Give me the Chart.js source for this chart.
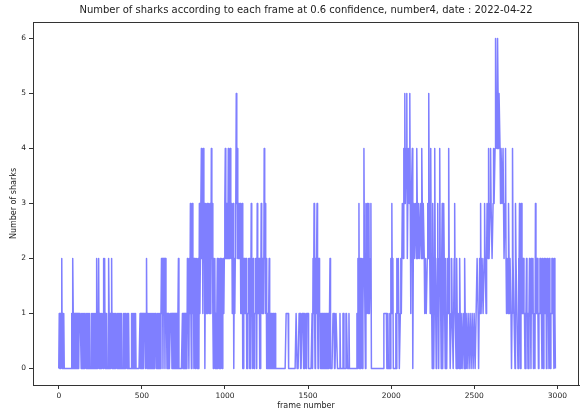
<!DOCTYPE html>
<html>
<head>
<meta charset="utf-8">
<script src="https://cdn.jsdelivr.net/npm/chart.js@4.4.1/dist/chart.umd.min.js"></script>
<style>
  html, body { margin: 0; padding: 0; background: #fff; overflow: hidden; }
  #wrap { width: 580px; height: 415px; }
</style>
</head>
<body>
<div id="wrap"><canvas id="c" width="580" height="415"></canvas></div>
<script>
// Frame sampling step (every 3rd frame)
const frameStep = 3;
const sharkCounts = [
  0,1,0,1,0,1,2,0,1,0,1,0,0,0,0,0,0,0,0,0,
  0,0,0,0,0,0,1,0,2,1,0,1,0,1,0,1,0,1,0,1,
  0,1,1,1,1,0,1,0,1,0,1,0,1,1,1,0,1,0,1,0,
  1,0,1,0,0,0,1,0,1,0,1,0,1,0,1,0,2,1,0,1,
  2,0,1,0,1,0,1,1,1,0,2,1,2,0,1,0,1,0,0,0,
  2,1,0,1,0,1,2,0,1,0,1,0,1,0,1,1,1,0,1,0,
  1,0,1,0,1,0,1,0,0,0,1,0,1,0,1,1,1,0,1,0,
  1,0,0,0,0,0,1,0,1,0,1,0,1,0,1,0,0,0,0,0,
  0,0,0,1,0,1,0,1,0,1,0,1,1,1,0,1,2,0,1,0,
  1,0,1,0,1,0,1,0,1,0,1,0,1,1,1,1,0,1,0,1,
  0,1,0,1,0,1,2,1,2,0,2,1,2,0,2,1,1,0,1,0,
  1,0,0,0,1,1,1,0,1,0,1,0,1,0,1,0,1,0,0,1,
  2,0,0,0,0,0,0,0,1,0,1,0,1,0,1,0,1,0,2,1,
  1,0,2,1,3,1,0,2,3,1,2,0,2,1,0,2,1,2,0,1,
  2,0,3,1,2,3,4,2,3,1,4,2,3,0,2,3,1,2,3,1,
  2,3,1,2,3,1,4,2,3,1,0,2,1,2,0,1,0,1,2,0,
  1,2,0,1,2,0,1,2,0,1,2,1,2,3,4,2,3,2,3,2,
  4,2,3,2,4,3,2,3,1,2,3,0,2,1,2,3,5,3,4,2,
  3,2,2,3,3,1,1,2,3,0,0,2,2,1,1,2,2,0,0,1,
  1,2,2,0,0,1,3,1,1,0,2,1,0,1,1,2,2,0,3,1,
  1,2,2,0,0,1,3,2,1,2,2,1,4,2,3,1,2,0,1,0,
  0,1,2,0,0,1,1,0,0,1,1,0,0,1,1,0,0,0,0,0,
  0,0,0,0,0,0,0,0,0,0,0,0,0,0,0,0,1,1,1,1,
  1,0,0,0,0,0,0,0,0,0,0,0,0,0,0,0,1,1,0,0,
  0,0,1,1,1,0,0,0,1,1,1,0,0,1,1,1,0,1,1,1,
  1,0,0,0,0,0,0,0,1,0,2,1,3,1,0,2,1,2,3,1,
  0,2,2,1,1,0,0,1,1,0,0,1,1,0,0,1,1,0,0,1,
  1,0,0,0,2,0,0,0,0,0,1,1,1,0,0,0,1,1,1,0,
  0,0,0,0,1,0,0,0,0,0,1,1,0,0,0,0,1,1,1,0,
  0,0,1,0,0,0,0,0,0,0,0,0,0,0,0,0,0,0,1,0,
  2,1,3,0,1,2,0,1,2,0,1,2,4,2,2,0,3,1,2,3,
  2,1,3,1,1,2,3,0,0,0,0,0,0,0,0,0,0,0,0,0,
  0,0,0,0,0,0,0,0,0,0,0,0,1,1,1,1,1,1,0,0,
  1,0,0,0,1,0,2,1,3,1,2,0,0,0,0,0,1,0,2,1,
  1,2,2,0,0,1,2,1,1,3,3,2,4,3,5,3,3,4,5,2,
  2,4,4,3,5,3,1,3,3,4,0,2,3,2,2,3,3,2,4,3,
  2,3,3,2,2,3,3,2,4,3,2,3,3,2,1,2,2,1,1,2,
  3,2,5,3,2,1,4,2,1,0,3,2,0,1,4,2,2,0,1,2,
  3,1,0,2,4,2,1,0,2,3,0,1,3,2,1,0,2,1,0,1,
  2,1,4,2,1,0,0,1,2,1,1,0,0,2,3,1,1,0,2,1,
  0,1,1,0,2,1,0,1,1,0,0,1,1,0,2,1,0,1,1,0,
  0,1,1,0,0,1,1,0,0,1,1,0,0,1,1,0,0,1,1,2,
  2,1,0,1,2,1,3,1,1,2,2,1,1,2,3,2,2,1,2,3,
  3,2,4,2,2,3,4,3,3,2,2,3,4,3,3,4,6,5,5,4,
  6,5,4,5,5,4,3,4,4,3,3,4,4,2,2,3,4,2,1,2,
  2,1,3,2,1,2,2,1,0,1,4,2,2,1,1,0,3,2,2,1,
  1,0,2,1,3,1,0,2,3,1,1,2,2,1,1,0,0,1,2,1,
  1,0,0,1,2,1,1,0,2,1,1,2,0,0,1,0,3,1,1,2,
  2,1,0,1,1,2,2,1,1,0,2,1,0,1,2,1,1,2,0,1,
  2,1,1,0,2,1,0,1,1,2,2,1,1,0,2,1,0
];
const frameNumbers = sharkCounts.map((_, i) => i * frameStep);
const xTicks = [0, 500, 1000, 1500, 2000, 2500, 3000];
const yTicks = [0, 1, 2, 3, 4, 5, 6];

const titleText = 'Number of sharks according to each frame at 0.6 confidence, number4, date : 2022-04-22';
const xLabel = 'frame number';
const yLabel = 'Number of sharks';

const FONT = "'DejaVu Sans', sans-serif";
const TXT = '#222';

const frameBox = {
  id: 'frameBox',
  afterDatasetsDraw(chart) {
    const a = chart.chartArea, ctx = chart.ctx;
    ctx.save();
    ctx.strokeStyle = '#333';
    ctx.lineWidth = 1;
    ctx.strokeRect(Math.round(a.left) + 0.5, Math.round(a.top) + 0.5,
                   Math.round(a.right - a.left) - 1, Math.round(a.bottom - a.top));
    ctx.restore();
  }
};

new Chart(document.getElementById('c'), {
  type: 'line',
  data: {
    datasets: [{
      data: sharkCounts.map((v, i) => ({ x: frameNumbers[i], y: v })),
      borderColor: 'rgba(0,0,255,0.5)',
      borderWidth: 1.5,
      borderJoinStyle: 'round',
      pointRadius: 0,
      tension: 0,
      fill: false
    }]
  },
  options: {
    responsive: false,
    animation: false,
    layout: { padding: { left: 0, right: 1, top: 0, bottom: 0 } },
    plugins: {
      legend: { display: false },
      tooltip: { enabled: false },
      title: {
        display: true,
        text: titleText,
        fullSize: false,
        color: TXT,
        font: { family: FONT, size: 10, weight: 'normal', lineHeight: 1.2 },
        padding: { top: 4, bottom: 6 }
      }
    },
    scales: {
      x: {
        type: 'linear',
        min: -155,
        max: 3130,
        afterBuildTicks: s => { s.ticks = xTicks.map(v => ({ value: v })); },
        afterFit: s => { s.height = 30; },
        grid: { drawOnChartArea: false, drawTicks: true, tickLength: 4, color: '#333' },
        border: { display: true, color: '#333' },
        ticks: { color: TXT, font: { family: FONT, size: 7.5 }, padding: 3, maxRotation: 0,
                 callback: v => String(v) },
        title: { display: true, text: xLabel, color: TXT,
                 font: { family: FONT, size: 8, lineHeight: 1.2 }, padding: { top: 0, bottom: 4 } }
      },
      y: {
        type: 'linear',
        min: -0.3,
        max: 6.3,
        afterBuildTicks: s => { s.ticks = yTicks.map(v => ({ value: v })); },
        afterFit: s => { s.width = 33; },
        grid: { drawOnChartArea: false, drawTicks: true, tickLength: 4, color: '#333' },
        border: { display: true, color: '#333' },
        ticks: { color: TXT, font: { family: FONT, size: 7.5 }, padding: 3, callback: v => String(v) },
        title: { display: true, text: yLabel, color: TXT,
                 font: { family: FONT, size: 8, lineHeight: 1.2 }, padding: { top: 9, bottom: 0 } }
      }
    }
  },
  plugins: [frameBox]
});
</script>
</body>
</html>
